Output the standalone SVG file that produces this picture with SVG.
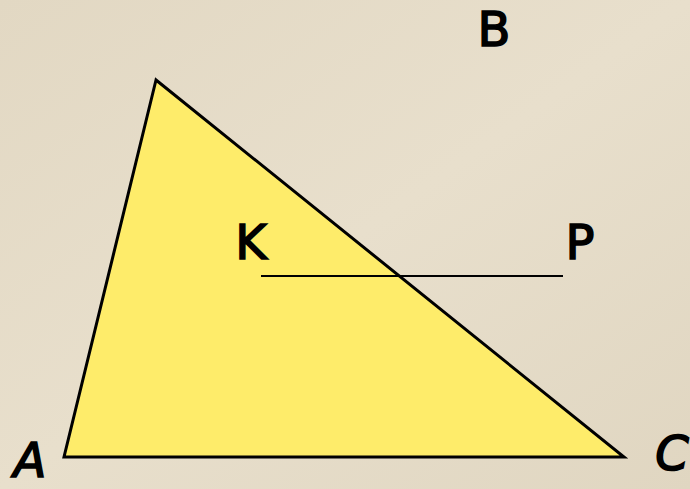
<svg xmlns="http://www.w3.org/2000/svg" width="690" height="489" viewBox="0 0 690 489">
<defs>
<style>
.lbl{font-family:"DejaVu Sans","Liberation Sans",sans-serif;font-size:48px;fill:#000;stroke:#000;stroke-width:1.6;text-anchor:middle}
.it{font-style:italic}
</style>
<linearGradient id="bg" x1="0" y1="0" x2="1" y2="1">
<stop offset="0" stop-color="#E2D8C3"/>
<stop offset="0.5" stop-color="#E8DFCC"/>
<stop offset="1" stop-color="#E0D6C1"/>
</linearGradient>
</defs>
<rect width="690" height="489" fill="url(#bg)"/>
<g id="triangle">
<polygon points="156,80 64,457 624,457" fill="#FEEC6A" stroke="#000" stroke-width="3" stroke-linejoin="miter"/>
</g>
<g id="connectors">
<line x1="261" y1="276" x2="563" y2="276" stroke="#000" stroke-width="2"/>
</g>
<g id="B"><text class="lbl" x="494" y="46">B</text></g>
<g id="K"><text class="lbl" x="251" y="259">K</text></g>
<g id="P"><text class="lbl" x="580" y="259">P</text></g>
<g id="A"><text class="lbl it" x="30" y="477">A</text></g>
<g id="C"><text class="lbl it" x="672" y="470">C</text></g>
</svg>
